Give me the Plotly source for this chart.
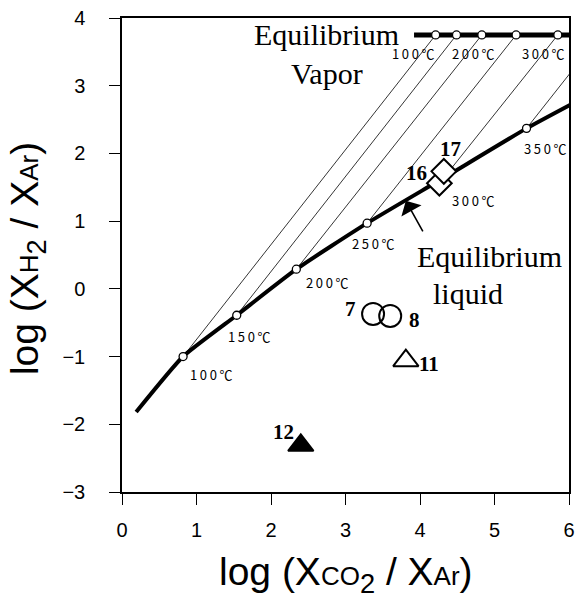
import plotly.graph_objects as go

# ---- data ----
temps = ["100", "150", "200", "250", "300", "350"]
liq_x = [0.82, 1.54, 2.34, 3.29, 4.32, 5.43]
liq_y = [-1.00, -0.39, 0.29, 0.97, 1.64, 2.37]
vap_x = [4.21, 4.49, 4.83, 5.29, 5.85, 6.42]
vap_y = [3.75, 3.75, 3.75, 3.75, 3.75, 3.75]

curve_x = [0.19, 0.82, 1.54, 2.34, 3.29, 4.32, 5.43, 6.02]
curve_y = [-1.82, -1.00, -0.39, 0.29, 0.97, 1.64, 2.37, 2.72]
vapline_x = [3.92, 6.05]
vapline_y = [3.75, 3.75]

samp_names = ["7", "8", "11", "12", "16", "17"]
samp_x = [3.37, 3.60, 3.81, 2.40, 4.26, 4.32]
samp_y = [-0.37, -0.40, -1.06, -2.31, 1.56, 1.735]

xticks = [0, 1, 2, 3, 4, 5, 6]
yticks = [-3, -2, -1, 0, 1, 2, 3, 4]

# ---- styles ----
samp_sym = ["circle-open", "circle-open", "triangle-up-open", "triangle-up", "diamond", "diamond"]
samp_size = [22, 22, 22, 22, 19, 19]
samp_lbl_shift = [(-23, 5), (24, -4), (23, -3), (-17, 13), (-23, 10), (7, 22)]
liq_lbl_shift = [(28, -18), (12, -21), (31, -13), (6, -20), (29, -23), (18, -20)]
vap_lbl_idx = [0, 2, 4]
vap_lbl_shift = [(-23, -19), (-9, -19), (-15, -19)]

fig = go.Figure()

# tie lines
for i in range(len(temps)):
    fig.add_trace(go.Scatter(x=[liq_x[i], vap_x[i]], y=[liq_y[i], vap_y[i]], mode="lines",
                             line=dict(color="black", width=0.8), hoverinfo="skip", showlegend=False))

# equilibrium liquid curve
fig.add_trace(go.Scatter(x=curve_x, y=curve_y, mode="lines",
                         line=dict(color="black", width=4, shape="spline", smoothing=0.5),
                         showlegend=False))
# vapor line
fig.add_trace(go.Scatter(x=vapline_x, y=vapline_y, mode="lines",
                         line=dict(color="black", width=5), showlegend=False))

# points
fig.add_trace(go.Scatter(x=liq_x, y=liq_y, mode="markers",
                         marker=dict(symbol="circle", size=8, color="white",
                                     line=dict(color="black", width=1.3)), showlegend=False))
fig.add_trace(go.Scatter(x=vap_x, y=vap_y, mode="markers",
                         marker=dict(symbol="circle", size=8, color="white",
                                     line=dict(color="black", width=1.3)), showlegend=False))

# samples
for i in range(len(samp_names)):
    sym = samp_sym[i]
    fill = "black" if sym == "triangle-up" else "white"
    fig.add_trace(go.Scatter(x=[samp_x[i]], y=[samp_y[i]], mode="markers",
                             marker=dict(symbol=sym, size=samp_size[i],
                                         color=fill if "open" not in sym else "black",
                                         line=dict(color="black", width=2)),
                             showlegend=False))

anns = []
tfont = dict(family="Noto Sans CJK JP, DejaVu Sans", size=13, color="black")
def tlabel(t):
    return "\u2009".join(list(t)) + "\u2009℃"

for i, t in enumerate(temps):
    dx, dy = liq_lbl_shift[i]
    anns.append(dict(x=liq_x[i], y=liq_y[i], text=tlabel(t), showarrow=False,
                     xshift=dx, yshift=dy, font=tfont))
for k, i in enumerate(vap_lbl_idx):
    dx, dy = vap_lbl_shift[k]
    anns.append(dict(x=vap_x[i], y=vap_y[i], text=tlabel(temps[i]), showarrow=False,
                     xshift=dx, yshift=dy, font=tfont))

sfont = dict(family="Liberation Serif, Times New Roman, serif", size=21, color="black")
for i, n in enumerate(samp_names):
    dx, dy = samp_lbl_shift[i]
    anns.append(dict(x=samp_x[i], y=samp_y[i], text="<b>%s</b>" % n, showarrow=False,
                     xshift=dx, yshift=dy, font=sfont))

efont = dict(family="Liberation Serif, Times New Roman, serif", size=30, color="black")
anns += [
    dict(x=2.75, y=3.75, text="Equilibrium", showarrow=False, font=efont),
    dict(x=2.75, y=3.18, text="Vapor", showarrow=False, font=efont),
    dict(x=4.93, y=0.485, text="Equilibrium", showarrow=False, font=efont),
    dict(x=4.64, y=-0.07, text="liquid", showarrow=False, font=efont),
    dict(x=3.81, y=1.30, ax=20, ay=36, text=" ", showarrow=True, arrowhead=1,
         arrowsize=2.4, arrowwidth=1.6, arrowcolor="black", standoff=0),
]

afont = dict(family="Liberation Sans, Arial, sans-serif", size=39, color="black")
anns.append(dict(xref="paper", yref="paper", x=0.5, y=-0.174, yanchor="middle",
                 text="log (X<span style='font-size:26px'>CO</span><sub>2</sub> / X<span style='font-size:26px'>Ar</span>)",
                 showarrow=False, font=afont))
anns.append(dict(xref="paper", yref="paper", x=-0.21, y=0.4916, xanchor="center", yanchor="middle",
                 textangle=-90,
                 text="log (X<span style='font-size:26px'>H</span><sub>2</sub> / X<span style='font-size:26px'>Ar</span>)",
                 showarrow=False, font=afont))

tickfont = dict(family="Liberation Sans Narrow, Liberation Sans, Arial", size=20, color="black")
fig.update_layout(
    width=582, height=600,
    margin=dict(l=122, r=7, t=16, b=108),
    paper_bgcolor="white", plot_bgcolor="white",
    annotations=anns,
    showlegend=False,
    xaxis=dict(range=[0, 6], tickvals=xticks, ticks="outside", ticklen=11, tickwidth=1.3,
               tickcolor="black", showline=True, linecolor="black", linewidth=1.5, mirror=True,
               showgrid=False, zeroline=False, tickfont=tickfont, ticklabelstandoff=8),
    yaxis=dict(range=[-3, 4], tickvals=yticks, ticks="outside", ticklen=11, tickwidth=1.3,
               tickcolor="black", showline=True, linecolor="black", linewidth=1.5, mirror=True,
               showgrid=False, zeroline=False, tickfont=tickfont, ticklabelstandoff=20),
)

fig.write_html("out.html")
